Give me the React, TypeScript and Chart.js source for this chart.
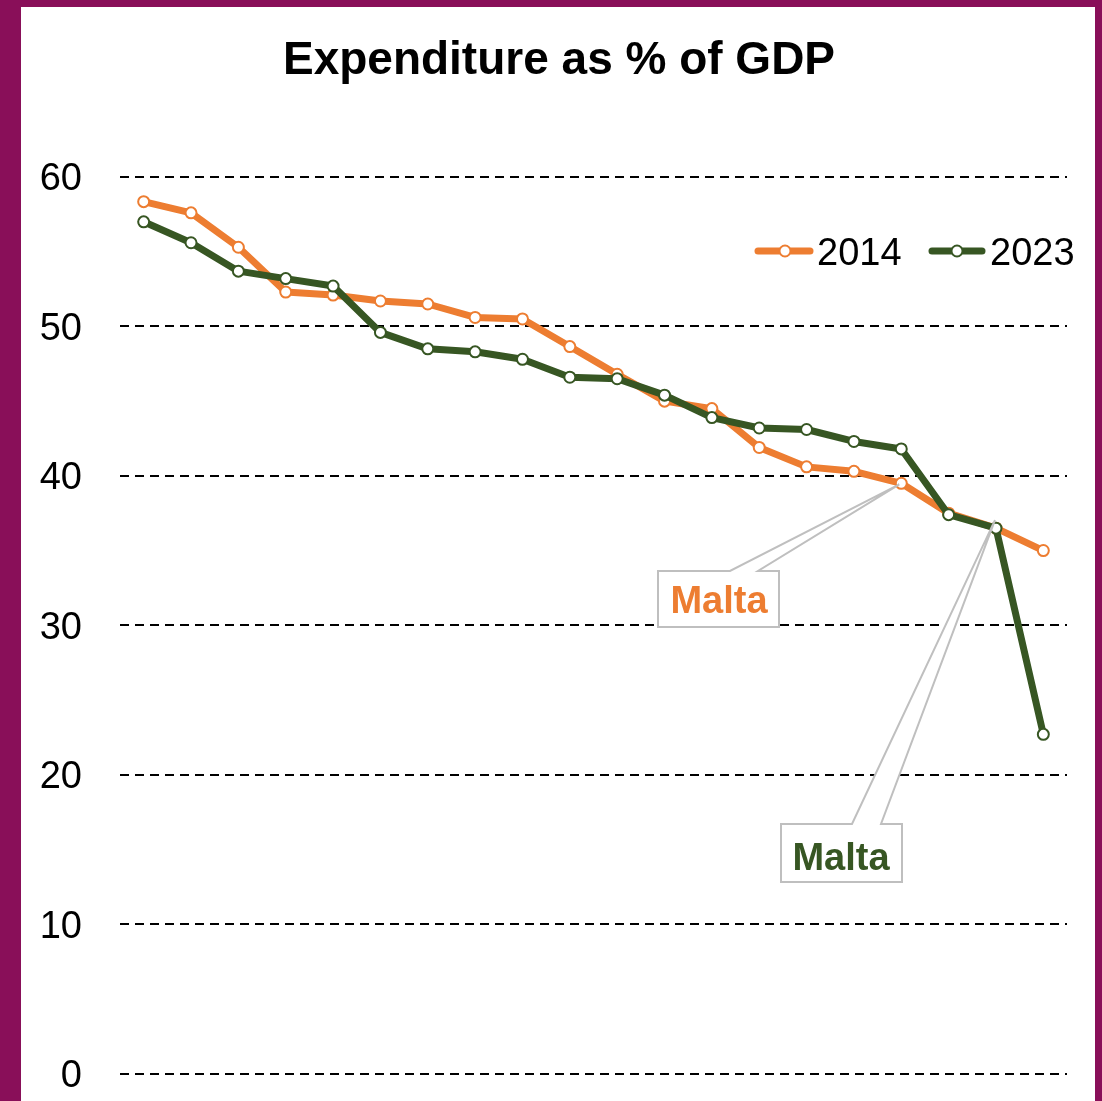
import React, { useEffect, useRef } from "react";
import { Chart, registerables } from "chart.js";

Chart.register(...registerables);

// ---- Data ----
const ranks = ["1", "2", "3", "4", "5", "6", "7", "8", "9", "10", "11", "12", "13", "14", "15", "16", "17", "18", "19", "20"];
const values2014 = [58.35, 57.6, 55.3, 52.3, 52.1, 51.7, 51.5, 50.6, 50.5, 48.65, 46.8, 45.0, 44.5, 41.9, 40.6, 40.3, 39.5, 37.5, 36.5, 35.0];
const values2023 = [57.0, 55.6, 53.7, 53.2, 52.7, 49.6, 48.5, 48.3, 47.8, 46.6, 46.5, 45.4, 43.9, 43.2, 43.1, 42.3, 41.8, 37.4, 36.5, 22.7];
const yTickValues = [0, 10, 20, 30, 40, 50, 60];
const seriesLabels = ["2014", "2023"];
const titleText = "Expenditure as % of GDP";
const calloutText = "Malta";
const maltaIndex2014 = 16;
const maltaIndex2023 = 18;

const ORANGE = "#ED7D31";
const GREEN = "#375623";
const FONT = "'Liberation Sans', Arial, sans-serif";

const decorPlugin = {
  id: "decor",
  afterDatasetsDraw(chart: any) {
    const ctx = chart.ctx as CanvasRenderingContext2D;
    ctx.save();

    const drawCallout = (
      tip: { x: number; y: number },
      box: { l: number; r: number; t: number; b: number; w1: number; w2: number },
      color: string,
      textX: number,
      textY: number
    ) => {
      ctx.beginPath();
      ctx.moveTo(box.l, box.t);
      ctx.lineTo(box.w1, box.t);
      ctx.lineTo(tip.x, tip.y);
      ctx.lineTo(box.w2, box.t);
      ctx.lineTo(box.r, box.t);
      ctx.lineTo(box.r, box.b);
      ctx.lineTo(box.l, box.b);
      ctx.closePath();
      ctx.fillStyle = "#ffffff";
      ctx.fill();
      ctx.lineWidth = 2;
      ctx.strokeStyle = "#BFBFBF";
      ctx.lineJoin = "miter";
      ctx.stroke();
      ctx.fillStyle = color;
      ctx.font = `bold 38px ${FONT}`;
      ctx.textAlign = "center";
      ctx.textBaseline = "alphabetic";
      ctx.fillText(calloutText, textX, textY);
    };

    const p14 = chart.getDatasetMeta(0).data[maltaIndex2014];
    const p23 = chart.getDatasetMeta(1).data[maltaIndex2023];
    if (p14) {
      drawCallout({ x: p14.x - 2, y: p14.y + 1 }, { l: 658, r: 779, t: 571, b: 627, w1: 730, w2: 758 }, ORANGE, 719, 613);
    }
    if (p23) {
      drawCallout({ x: p23.x - 1, y: p23.y - 8 }, { l: 781, r: 902, t: 824, b: 882, w1: 852, w2: 881 }, GREEN, 841, 870);
    }
    ctx.restore();
  },
  afterDraw(chart: any) {
    const ctx = chart.ctx as CanvasRenderingContext2D;
    ctx.save();
    ctx.fillStyle = "#000";
    ctx.font = `bold 46px ${FONT}`;
    ctx.textAlign = "center";
    ctx.textBaseline = "alphabetic";
    ctx.fillText(titleText, 559, 74);

    const items = [
      { label: seriesLabels[0], color: ORANGE, x1: 755, x2: 813, cx: 785, tx: 817 },
      { label: seriesLabels[1], color: GREEN, x1: 929, x2: 985, cx: 957, tx: 990 },
    ];
    const ly = 251;
    for (const it of items) {
      ctx.beginPath();
      ctx.lineWidth = 7;
      ctx.lineCap = "round";
      ctx.strokeStyle = it.color;
      ctx.moveTo(it.x1 + 3, ly);
      ctx.lineTo(it.x2 - 3, ly);
      ctx.stroke();
      ctx.beginPath();
      ctx.arc(it.cx, ly, 5.5, 0, Math.PI * 2);
      ctx.fillStyle = "#fff";
      ctx.fill();
      ctx.lineWidth = 2;
      ctx.strokeStyle = it.color;
      ctx.stroke();
      ctx.fillStyle = "#000";
      ctx.font = `38px ${FONT}`;
      ctx.textAlign = "left";
      ctx.fillText(it.label, it.tx, 265);
    }
    ctx.restore();
  },
};

export default function App() {
  const ref = useRef<HTMLCanvasElement | null>(null);

  useEffect(() => {
    if (!ref.current) return;
    const chart = new Chart(ref.current, {
      type: "line",
      data: {
        labels: ranks,
        datasets: [
          {
            label: seriesLabels[0],
            data: values2014,
            borderColor: ORANGE,
            backgroundColor: ORANGE,
            borderWidth: 7,
            pointRadius: 5.5,
            pointBorderWidth: 2,
            pointBackgroundColor: "#ffffff",
            pointBorderColor: ORANGE,
            borderJoinStyle: "round",
            borderCapStyle: "round",
            tension: 0,
            order: 2,
          },
          {
            label: seriesLabels[1],
            data: values2023,
            borderColor: GREEN,
            backgroundColor: GREEN,
            borderWidth: 7,
            pointRadius: 5.5,
            pointBorderWidth: 2,
            pointBackgroundColor: "#ffffff",
            pointBorderColor: GREEN,
            borderJoinStyle: "round",
            borderCapStyle: "round",
            tension: 0,
            order: 1,
          },
        ],
      },
      options: {
        animation: false,
        responsive: false,
        maintainAspectRatio: false,
        layout: { padding: { left: 0, top: 177, right: 35, bottom: 27.5 } },
        plugins: {
          legend: { display: false },
          title: { display: false },
          tooltip: { enabled: false },
        },
        scales: {
          x: {
            display: false,
            offset: true,
          },
          y: {
            min: 0,
            max: 60,
            afterFit: (scale: any) => {
              scale.width = 120;
            },
            afterBuildTicks: (scale: any) => {
              scale.ticks = yTickValues.map((v) => ({ value: v }));
            },
            ticks: {
              stepSize: 10,
              padding: 0,
              labelOffset: 3,
              color: "#000",
              font: { family: FONT, size: 38 },
            },
            grid: {
              color: "#000",
              lineWidth: 2,
              drawTicks: true,
              tickLength: 38,
              tickColor: "rgba(0,0,0,0)",
            },
            border: { display: false, dash: [9, 6] },
          },
        },
      },
      plugins: [decorPlugin],
    });
    return () => chart.destroy();
  }, []);

  return (
    <div style={{ position: "fixed", left: 0, top: 0, width: 1102, height: 1101, background: "#890F59", overflow: "hidden" }}>
      <div style={{ position: "absolute", left: 21, top: 7, width: 1074, height: 1200, background: "#ffffff" }} />
      <canvas ref={ref} width={1102} height={1101} style={{ position: "absolute", left: 0, top: 0, width: 1102, height: 1101 }} />
    </div>
  );
}
